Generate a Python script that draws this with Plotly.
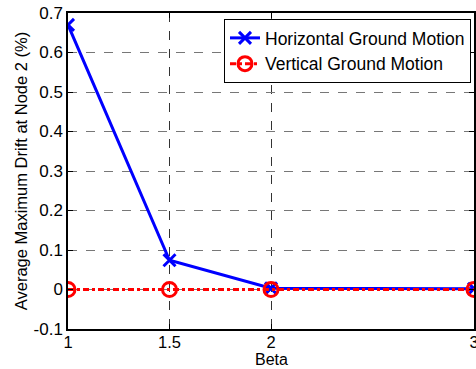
import plotly.graph_objects as go

beta = [1, 1.5, 2, 3]
horizontal = [0.67, 0.074, 0.003, 0.002]
vertical = [0.0, 0.0, 0.0, 0.0]
x_ticks = [1, 1.5, 2, 3]
x_ticklabels = ["1", "1.5", "2", "3"]
y_ticks = [-0.1, 0, 0.1, 0.2, 0.3, 0.4, 0.5, 0.6, 0.7]
y_ticklabels = ["-0.1", "0", "0.1", "0.2", "0.3", "0.4", "0.5", "0.6", "0.7"]

FONT = "Liberation Sans, Arial, sans-serif"

fig = go.Figure()
fig.add_trace(go.Scatter(
    x=beta, y=horizontal, name="Horizontal Ground Motion",
    mode="lines+markers",
    line=dict(color="#0000ff", width=3),
    marker=dict(symbol="x-thin", size=12, line=dict(color="#0000ff", width=3)),
))
fig.add_trace(go.Scatter(
    x=beta, y=vertical, name="Vertical Ground Motion",
    mode="lines+markers",
    line=dict(color="#ff0000", width=3, dash="6px,3px,3px,3px"),
    marker=dict(symbol="circle-open", size=14, color="#ff0000",
                line=dict(color="#ff0000", width=3)),
))

fig.add_annotation(
    text="Beta", xref="paper", yref="paper", x=0.5, y=-0.128,
    xanchor="center", yanchor="bottom", showarrow=False, borderpad=0,
    font=dict(family=FONT, size=16, color="black"),
)

fig.update_layout(
    width=476, height=369,
    margin=dict(l=68, r=0, t=13, b=40),
    paper_bgcolor="white", plot_bgcolor="white",
    font=dict(family=FONT, size=16, color="black"),
    showlegend=True,
    legend=dict(
        x=0.9926, xanchor="right", y=0.981, yanchor="top",
        bgcolor="white", bordercolor="black", borderwidth=1,
        font=dict(family=FONT, size=17.5, color="black"),
        itemwidth=30, tracegroupgap=0,
    ),
    xaxis=dict(
        range=[1, 3], tickvals=x_ticks, ticktext=x_ticklabels,
        showgrid=True, gridcolor="#333333", griddash="dash", gridwidth=1,
        ticks="inside", ticklen=5, tickcolor="black",
        showline=True, linecolor="black", linewidth=1.5, mirror="ticks",
        zeroline=False, ticklabeloverflow="allow", automargin=False,
        ticklabelstandoff=-3,
        tickfont=dict(family=FONT, size=16.5),
    ),
    yaxis=dict(
        range=[-0.1, 0.7], tickvals=y_ticks, ticktext=y_ticklabels,
        showgrid=True, gridcolor="#777777", griddash="dash", gridwidth=1,
        ticks="inside", ticklen=5, tickcolor="black",
        showline=True, linecolor="black", linewidth=1.5, mirror="ticks",
        zeroline=False,
        title=dict(text="Average Maximum Drift at Node 2 (%)", font=dict(family=FONT, size=16.5), standoff=2),
        tickfont=dict(family=FONT, size=17),
    ),
)

fig.write_html("out.html")
